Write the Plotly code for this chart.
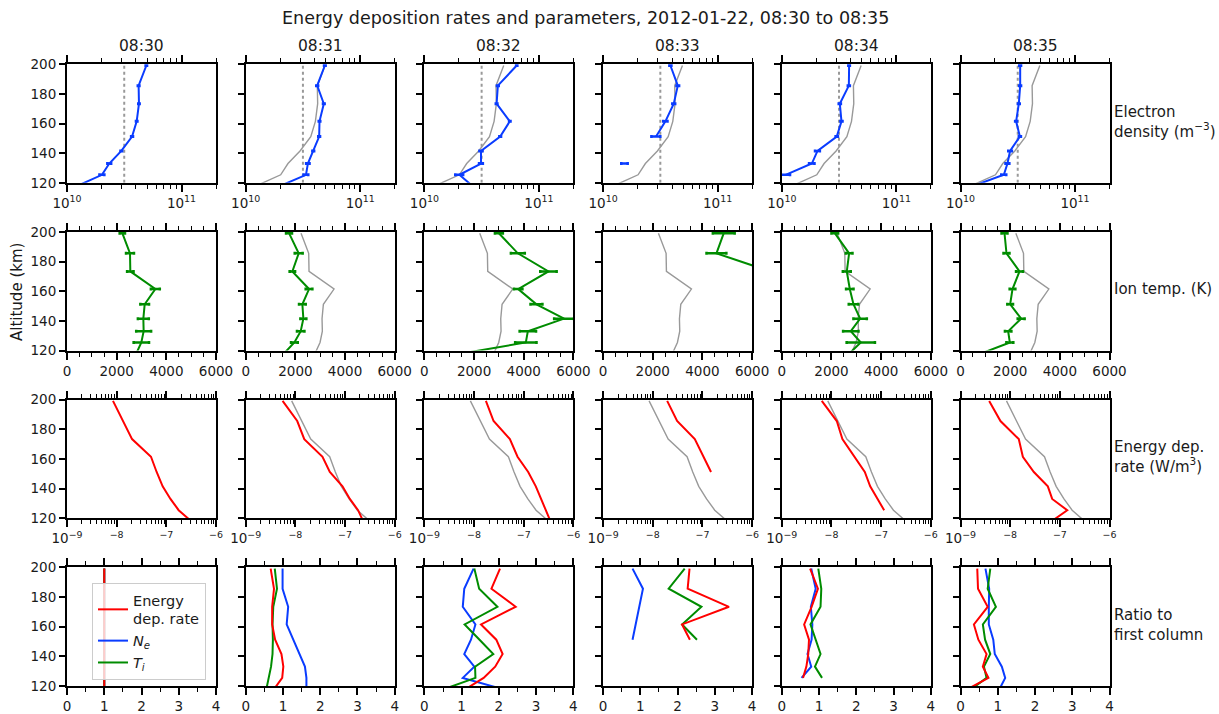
import math
import plotly.graph_objects as go

# ---------------- data ----------------
TIMES = ["08:30", "08:31", "08:32", "08:33", "08:34", "08:35"]
ALT = [118.5, 125.4, 133.0, 141.5, 151.2, 161.5, 173.4, 185.6, 199.2]   # km
NE_REF = 3.16e10                                                        # dotted reference line

# Electron density (m^-3)
ne_0830 = [1.28e10, 2.02e10, 2.34e10, 2.98e10, 3.70e10, 4.06e10, 4.25e10, 4.22e10, 4.93e10]
ne_0831 = [2.09e10, 3.36e10, 3.49e10, 3.89e10, 4.38e10, 4.41e10, 4.81e10, 4.21e10, 4.91e10]
ne_0832 = [2.57e10, 2.02e10, 3.12e10, 3.12e10, 4.59e10, 5.57e10, 4.27e10, 4.38e10, 6.40e10]
ne_0833 = [None, None, 1.54e10, None, 2.90e10, 3.50e10, 4.14e10, 4.49e10, 3.87e10]
ne_0834 = [None, 1.08e10, 1.83e10, 2.05e10, 3.02e10, 3.32e10, 3.21e10, 3.85e10, 3.87e10]
ne_0835 = [1.36e10, 2.39e10, 2.57e10, 2.71e10, 3.30e10, 3.06e10, 3.23e10, 3.32e10, 3.32e10]

ne_err_0830 = [0, 0.10e10, 0.09e10, 0.05e10, 0.07e10, 0.06e10, 0.06e10, 0.07e10, 0.07e10]
ne_err_0831 = [0, 0.16e10, 0.12e10, 0.07e10, 0.08e10, 0.07e10, 0.08e10, 0.08e10, 0.08e10]
ne_err_0832 = [0, 0.16e10, 0.12e10, 0.10e10, 0.08e10, 0.08e10, 0.07e10, 0.08e10, 0.08e10]
ne_err_0833 = [0, 0, 0.10e10, 0, 0.26e10, 0.15e10, 0.12e10, 0.12e10, 0.08e10]
ne_err_0834 = [0, 0.10e10, 0.10e10, 0.10e10, 0.07e10, 0.07e10, 0.07e10, 0.08e10, 0.06e10]
ne_err_0835 = [0, 0.12e10, 0.10e10, 0.10e10, 0.07e10, 0.06e10, 0.06e10, 0.06e10, 0.06e10]

# Ion temperature (K)
ti_0830 = [2805, 2993, 3087, 3074, 3128, 3557, 2550, 2537, 2228]
ti_0831 = [1570, 1960, 2215, 2322, 2282, 2550, 1879, 2134, 1745]
ti_0832 = [1690, 4085, 4165, 5625, 4513, 3777, 4996, 3763, 3000]
ti_0833 = [None, None, None, None, 7890, 7540, 6730, 4564, 4859]
ti_0834 = [2752, 3181, 2778, 3154, 2886, 2738, 2617, 2711, 2134]
ti_0835 = [913, 1987, 1919, 2443, 2000, 2094, 2376, 1852, 1772]

ti_err_0830 = [0, 310, 300, 220, 175, 180, 130, 160, 107]
ti_err_0831 = [0, 135, 150, 120, 135, 135, 110, 160, 120]
ti_err_0832 = [0, 430, 330, 400, 240, 170, 330, 280, 160]
ti_err_0833 = [0, 0, 0, 0, 0, 0, 0, 400, 440]
ti_err_0834 = [0, 570, 310, 270, 190, 150, 160, 135, 135]
ti_err_0835 = [0, 140, 130, 140, 115, 115, 140, 120, 120]

# Energy deposition rate (W/m^3)
e_0830 = [3.04e-7, 1.77e-7, 1.21e-7, 8.43e-8, 6.38e-8, 4.91e-8, 2.04e-8, 1.36e-8, 8.43e-9]
e_0831 = [2.28e-7, 1.83e-7, 1.25e-7, 8.89e-8, 4.94e-8, 3.52e-8, 1.51e-8, 1.09e-8, 5.53e-9]
e_0832 = [3.40e-7, 2.78e-7, 2.24e-7, 1.75e-7, 1.23e-7, 7.50e-8, 5.26e-8, 2.47e-8, 1.73e-8]
e_0833 = [None, None, None, None, 1.49e-7, 1.05e-7, 7.02e-8, 3.09e-8, 1.95e-8]
e_0834 = [None, 1.15e-7, 8.43e-8, 6.02e-8, 4.69e-8, 2.90e-8, 1.66e-8, 1.28e-8, 6.38e-9]
e_0835 = [7.23e-8, 1.41e-7, 7.02e-8, 5.73e-8, 3.00e-8, 1.80e-8, 1.49e-8, 6.38e-9, 3.78e-9]

# Ratio to first column
rat_e_0830 = [1, 1, 1, 1, 1, 1, 1, 1, 1]
rat_ne_0830 = [1, 1, 1, 1, 1, 1, 1, 1, 1]
rat_ti_0830 = [1, 1, 1, 1, 1, 1, 1, 1, 1]
rat_e_0831 = [0.78, 0.98, 1.01, 0.96, 0.79, 0.71, 0.71, 0.76, 0.67]
rat_ne_0831 = [1.63, 1.63, 1.59, 1.44, 1.28, 1.10, 1.14, 0.99, 0.99]
rat_ti_0831 = [0.56, 0.62, 0.68, 0.72, 0.73, 0.72, 0.74, 0.84, 0.78]
rat_e_0832 = [1.15, 1.59, 1.90, 2.10, 1.93, 1.52, 2.45, 1.80, 2.03]
rat_ne_0832 = [2.00, 1.03, 1.34, 1.07, 1.25, 1.37, 1.03, 1.07, 1.32]
rat_ti_0832 = [0.60, 1.37, 1.36, 1.85, 1.48, 1.08, 1.96, 1.47, 1.34]
rat_e_0833 = [None, None, None, None, 2.33, 2.12, 3.38, 2.27, 2.32]
rat_ne_0833 = [None, None, None, None, 0.79, 0.87, 0.98, 1.07, 0.79]
rat_ti_0833 = [None, None, None, None, 2.52, 2.12, 2.64, 1.76, 2.19]
rat_e_0834 = [None, 0.57, 0.66, 0.71, 0.73, 0.60, 0.80, 0.97, 0.76]
rat_ne_0834 = [None, 0.53, 0.79, 0.69, 0.80, 0.82, 0.78, 0.91, 0.79]
rat_ti_0834 = [None, 1.08, 0.89, 1.04, 0.91, 0.77, 1.04, 1.06, 0.98]
rat_e_0835 = [0.24, 0.75, 0.60, 0.70, 0.48, 0.36, 0.73, 0.47, 0.45]
rat_ne_0835 = [1.06, 1.20, 1.11, 0.92, 0.88, 0.76, 0.76, 0.77, 0.67]
rat_ti_0835 = [0.33, 0.70, 0.63, 0.80, 0.66, 0.60, 0.95, 0.73, 0.80]

ROW_LABELS = ["Electron<br>density (m<sup>−3</sup>)", "Ion temp. (K)",
              "Energy dep.<br>rate (W/m<sup>3</sup>)", "Ratio to<br>first column"]
LEGEND_NAMES = ["Energy<br>dep. rate", "<i>N<sub>e</sub></i>", "<i>T<sub>i</sub></i>"]
TITLE = "Energy deposition rates and parameters, 2012-01-22, 08:30 to 08:35"

NE = [ne_0830, ne_0831, ne_0832, ne_0833, ne_0834, ne_0835]
NE_ERR = [ne_err_0830, ne_err_0831, ne_err_0832, ne_err_0833, ne_err_0834, ne_err_0835]
TI = [ti_0830, ti_0831, ti_0832, ti_0833, ti_0834, ti_0835]
TI_ERR = [ti_err_0830, ti_err_0831, ti_err_0832, ti_err_0833, ti_err_0834, ti_err_0835]
E = [e_0830, e_0831, e_0832, e_0833, e_0834, e_0835]
R_E = [rat_e_0830, rat_e_0831, rat_e_0832, rat_e_0833, rat_e_0834, rat_e_0835]
R_NE = [rat_ne_0830, rat_ne_0831, rat_ne_0832, rat_ne_0833, rat_ne_0834, rat_ne_0835]
R_TI = [rat_ti_0830, rat_ti_0831, rat_ti_0832, rat_ti_0833, rat_ti_0834, rat_ti_0835]

# ---------------- styling / layout ----------------
W, H = 1219, 714
COL_LEFT0, COL_STEP, PW = 67.0, 178.7, 149.0
ROW_TOP0, ROW_STEP, PH = 64.3, 167.7, 118.5
FONT = "DejaVu Sans"
BLUE, GREEN, RED, GRAY = "#0a3cff", "#008c00", "#ff0000", "#999999"
TXT = "#1a1a1a"


def xd(px):
    return px / W


def yd(py):
    return 1 - py / H


fig = go.Figure()


def axname(n, kind):
    return kind if n == 1 else f"{kind}{n}"


def add(n, **kw):
    fig.add_trace(go.Scatter(xaxis=axname(n, "x"), yaxis=axname(n, "y"), mode="lines",
                             showlegend=False, hoverinfo="skip", **kw))


for c in range(6):
    # row 0: electron density
    n = 0 * 6 + c + 1
    add(n, x=[NE_REF, NE_REF], y=[120, 200], line=dict(color=GRAY, width=2, dash="dot"))
    if c > 0:
        add(n, x=NE[0], y=ALT, line=dict(color=GRAY, width=1.4))
    add(n, x=NE[c], y=ALT, line=dict(color=BLUE, width=2),
        error_x=dict(type="data", array=NE_ERR[c], color=BLUE, thickness=2.5, width=1.5))
    # row 1: ion temperature
    n = 1 * 6 + c + 1
    if c > 0:
        add(n, x=TI[0], y=ALT, line=dict(color=GRAY, width=1.4))
    add(n, x=TI[c], y=ALT, line=dict(color=GREEN, width=2),
        error_x=dict(type="data", array=TI_ERR[c], color=GREEN, thickness=2.5, width=1.5))
    # row 2: energy deposition rate
    n = 2 * 6 + c + 1
    if c > 0:
        add(n, x=E[0], y=ALT, line=dict(color=GRAY, width=1.4))
    add(n, x=E[c], y=ALT, line=dict(color=RED, width=2))
    # row 3: ratios
    n = 3 * 6 + c + 1
    show = (c == 0)
    fig.add_trace(go.Scatter(xaxis=axname(n, "x"), yaxis=axname(n, "y"), mode="lines",
                             x=R_NE[c], y=ALT, line=dict(color=BLUE, width=2),
                             name=LEGEND_NAMES[1], showlegend=show, legendrank=2, hoverinfo="skip"))
    fig.add_trace(go.Scatter(xaxis=axname(n, "x"), yaxis=axname(n, "y"), mode="lines",
                             x=R_TI[c], y=ALT, line=dict(color=GREEN, width=2),
                             name=LEGEND_NAMES[2], showlegend=show, legendrank=3, hoverinfo="skip"))
    fig.add_trace(go.Scatter(xaxis=axname(n, "x"), yaxis=axname(n, "y"), mode="lines",
                             x=R_E[c], y=ALT, line=dict(color=RED, width=2),
                             name=LEGEND_NAMES[0], showlegend=show, legendrank=1, hoverinfo="skip"))

ne_minor = [k * 1e10 for k in range(2, 10)] + [2e11]
e_minor = [k * 10.0 ** p for p in (-9, -8, -7) for k in range(2, 10)]

layout = {}
for r in range(4):
    for c in range(6):
        n = r * 6 + c + 1
        left = COL_LEFT0 + c * COL_STEP
        top = ROW_TOP0 + r * ROW_STEP
        xa = dict(domain=[xd(left), xd(left + PW)], anchor=axname(n, "y"), automargin=False,
                  showline=True, linecolor="black", linewidth=2, mirror="ticks",
                  ticks="outside", ticklen=7, tickwidth=1.5, tickcolor="black",
                  showgrid=False, zeroline=False,
                  tickfont=dict(family=FONT, size=13.5, color=TXT))
        if r == 0:
            xa.update(type="log", range=[10, math.log10(2e11)], tickmode="array",
                      tickvals=[1e10, 1e11], ticktext=["10<sup>10</sup>", "10<sup>11</sup>"],
                      minor=dict(tickmode="array", tickvals=ne_minor, ticklen=4,
                                 tickwidth=1, tickcolor="black", showgrid=False))
        elif r == 1:
            xa.update(range=[0, 6000], tickmode="array", tickvals=[0, 2000, 4000, 6000],
                      ticktext=["0", "2000", "4000", "6000"],
                      minor=dict(dtick=500, ticklen=4, tickwidth=1, tickcolor="black",
                                 showgrid=False))
        elif r == 2:
            xa.update(type="log", range=[-9, -6], tickmode="array",
                      tickvals=[1e-9, 1e-8, 1e-7, 1e-6],
                      ticktext=["10<sup>−9</sup>", "<sup>−8</sup>", "<sup>−7</sup>", "<sup>−6</sup>"],
                      minor=dict(tickmode="array", tickvals=e_minor, ticklen=4,
                                 tickwidth=1, tickcolor="black", showgrid=False))
        else:
            xa.update(range=[0, 4], tickmode="array", tickvals=[0, 1, 2, 3, 4],
                      ticktext=["0", "1", "2", "3", "4"],
                      minor=dict(dtick=0.5, ticklen=4, tickwidth=1, tickcolor="black",
                                 showgrid=False))
        ya = dict(domain=[yd(top + PH), yd(top)], anchor=axname(n, "x"), automargin=False,
                  range=[120, 200], showline=True, linecolor="black", linewidth=2,
                  mirror=True, ticks="outside", ticklen=6, tickwidth=1.5, tickcolor="black",
                  tickmode="array", tickvals=[120, 140, 160, 180, 200],
                  ticktext=["120", "140", "160", "180", "200"],
                  showticklabels=(c == 0), showgrid=False, zeroline=False,
                  tickfont=dict(family=FONT, size=13.5, color=TXT))
        layout["xaxis" if n == 1 else f"xaxis{n}"] = xa
        layout["yaxis" if n == 1 else f"yaxis{n}"] = ya

annotations = [dict(text=TITLE, x=xd(585.5), y=yd(18), xref="paper", yref="paper",
                    showarrow=False, xanchor="center", yanchor="middle",
                    font=dict(family=FONT, size=17.5, color=TXT))]
for c, t in enumerate(TIMES):
    annotations.append(dict(text=t, x=xd(COL_LEFT0 + c * COL_STEP + PW / 2), y=yd(46),
                            xref="paper", yref="paper", showarrow=False,
                            xanchor="center", yanchor="middle",
                            font=dict(family=FONT, size=15.5, color=TXT)))
for r, lab in enumerate(ROW_LABELS):
    annotations.append(dict(text=lab, x=xd(1112), y=yd(ROW_TOP0 + r * ROW_STEP + PH / 2 - 2),
                            xref="paper", yref="paper", showarrow=False,
                            xanchor="left", yanchor="middle", align="left",
                            font=dict(family=FONT, size=15, color=TXT)))
annotations.append(dict(text="Altitude (km)", x=xd(17), y=yd(292), xref="paper", yref="paper",
                        showarrow=False, textangle=-90, xanchor="center", yanchor="middle",
                        font=dict(family=FONT, size=15, color=TXT)))

fig.update_layout(
    template="none",
    width=W, height=H, margin=dict(l=0, r=0, t=0, b=0, autoexpand=False),
    paper_bgcolor="white", plot_bgcolor="white",
    font=dict(family=FONT, size=13, color=TXT),
    showlegend=True,
    legend=dict(x=xd(92), y=yd(583), xanchor="left", yanchor="top",
                bgcolor="rgba(255,255,255,0.8)", bordercolor="#cccccc", borderwidth=1,
                font=dict(family=FONT, size=14.5, color=TXT), tracegroupgap=0,
                traceorder="normal"),
    annotations=annotations,
    **layout,
)

fig.write_html("out.html")
